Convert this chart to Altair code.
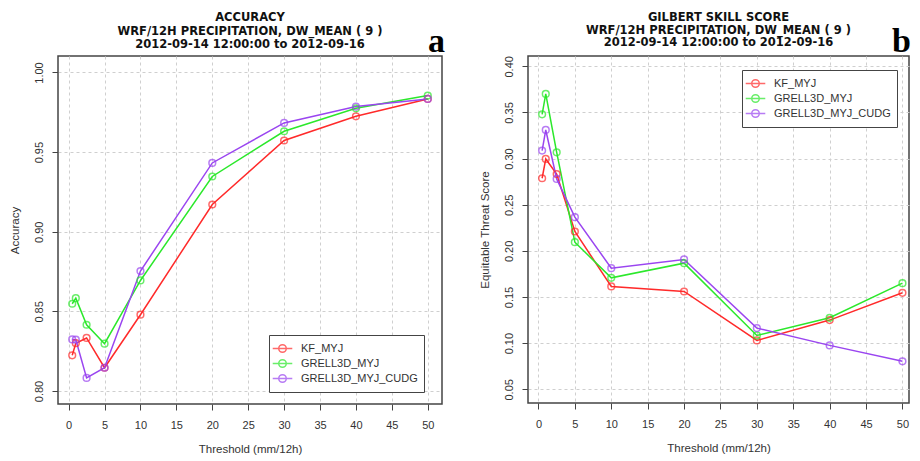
import altair as alt
import pandas as pd

thresholds = [0.5, 1, 2.5, 5, 10, 20, 30, 40, 50]
models = ["KF_MYJ", "GRELL3D_MYJ", "GRELL3D_MYJ_CUDG"]
colors = ["#FF2A2A", "#2BE82B", "#9A45F0"]

acc_kf = [0.8224, 0.8300, 0.8333, 0.8146, 0.8479, 0.9171, 0.9573, 0.9725, 0.9834]
acc_grell = [0.8548, 0.8583, 0.8416, 0.8297, 0.8694, 0.9347, 0.9631, 0.9775, 0.9855]
acc_cudg = [0.8324, 0.8322, 0.8082, 0.8146, 0.8753, 0.9432, 0.9683, 0.9786, 0.9834]

gss_kf = [0.2787, 0.2996, 0.2833, 0.2210, 0.1615, 0.1560, 0.1030, 0.1250, 0.1546]
gss_grell = [0.3480, 0.3700, 0.3068, 0.2094, 0.1708, 0.1867, 0.1084, 0.1275, 0.1650]
gss_cudg = [0.3087, 0.3310, 0.2780, 0.2365, 0.1813, 0.1907, 0.1163, 0.0976, 0.0803]

x_ticks = [0, 5, 10, 15, 20, 25, 30, 35, 40, 45, 50]
acc_ticks = [0.80, 0.85, 0.90, 0.95, 1.00]
gss_ticks = [0.05, 0.10, 0.15, 0.20, 0.25, 0.30, 0.35, 0.40]

title_a = ["ACCURACY", "WRF/12H PRECIPITATION, DW_MEAN ( 9 )", "2012-09-14 12:00:00 to 2012-09-16"]
title_b = ["GILBERT SKILL SCORE", "WRF/12H PRECIPITATION, DW_MEAN ( 9 )", "2012-09-14 12:00:00 to 2012-09-16"]


def long_df(series):
    rows = []
    for m, vals in zip(models, series):
        for t, v in zip(thresholds, vals):
            rows.append({"threshold": t, "model": m, "value": v})
    return pd.DataFrame(rows)


SYM = "M-1.5,0L1.5,0M0.58,0A0.58,0.58,0,1,1,-0.58,0A0.58,0.58,0,1,1,0.58,0Z"
FONT = "Liberation Sans"


def panel(df, ytitle, xdomain, ydomain, yticks, tlines, toffset, tlh, letter, lx, ly,
          legx, legy, w, h):
    base = alt.Chart(df)
    x = alt.X("threshold:Q",
              scale=alt.Scale(domain=xdomain, nice=False, zero=False),
              axis=alt.Axis(values=x_ticks, title="Threshold (mm/12h)", labelPadding=9.5,
                            titlePadding=12.5))
    y = alt.Y("value:Q",
              scale=alt.Scale(domain=ydomain, nice=False, zero=False),
              axis=alt.Axis(values=yticks, format=".2f", title=ytitle, labelAngle=270,
                            labelAlign="center", labelBaseline="bottom", labelPadding=8,
                            titlePadding=13))
    leg = alt.Legend(title=None, orient="none", legendX=legx, legendY=legy,
                     strokeColor="#444", fillColor="white", padding=6,
                     labelFont=FONT, labelFontSize=11, labelColor="#333",
                     labelOffset=11, symbolType=SYM, symbolSize=170,
                     symbolStrokeWidth=1.5, symbolFillColor="transparent",
                     rowPadding=0)
    cscale = alt.Scale(domain=models, range=colors)
    line = base.mark_line(strokeWidth=1.5).encode(
        x=x, y=y, color=alt.Color("model:N", scale=cscale, sort=models, legend=leg))
    pts = base.mark_point(shape="circle", filled=False, size=45, strokeWidth=1.5).encode(
        x=x, y=y, color=alt.Color("model:N", scale=cscale, sort=models, legend=leg))
    txt = alt.Chart(pd.DataFrame({"t": [letter]})).mark_text(
        font="Liberation Serif", fontWeight="bold", fontSize=34,
        baseline="alphabetic", align="center", color="black"
    ).encode(text="t:N", x=alt.value(lx), y=alt.value(ly))
    return alt.layer(line, pts, txt).properties(
        width=w, height=h,
        title=alt.TitleParams(text=tlines, font="DejaVu Sans", fontSize=11.5, fontWeight="bold",
                              lineHeight=tlh, offset=toffset, frame="group",
                              anchor="middle", color="#111"))


left = panel(long_df([acc_kf, acc_grell, acc_cudg]), "Accuracy", [-1.48, 51.98],
             [0.79184, 1.01035], acc_ticks, title_a, -26, 13.7, "a", 378.5, -4,
             211, 279, 384, 348)
right = panel(long_df([gss_kf, gss_grell, gss_cudg]), "Equitable Threat Score", [-1.44, 50.9],
              [0.03517, 0.41115], gss_ticks, title_b, -23.8, 12.6, "b", 373.5, -4,
              214, 14, 381, 347)

chart = alt.hconcat(left, right, spacing=32).resolve_scale(
    color="independent", x="independent", y="independent"
).resolve_legend(color="independent").properties(
    padding={"left": 0, "top": 3, "right": 0, "bottom": 0}
).configure_view(
    stroke="#444", strokeWidth=1.5
).configure_axis(
    domain=False, tickColor="#444", tickSize=6, tickWidth=1,
    labelFont=FONT, labelFontSize=11, labelColor="#333",
    titleFont=FONT, titleFontSize=11.5, titleFontWeight="normal", titleColor="#333",
    gridColor="#cfcfcf", gridDash=[3, 3], gridWidth=1
)

chart.save("out.html", embed_options={"renderer": "svg", "actions": False})
